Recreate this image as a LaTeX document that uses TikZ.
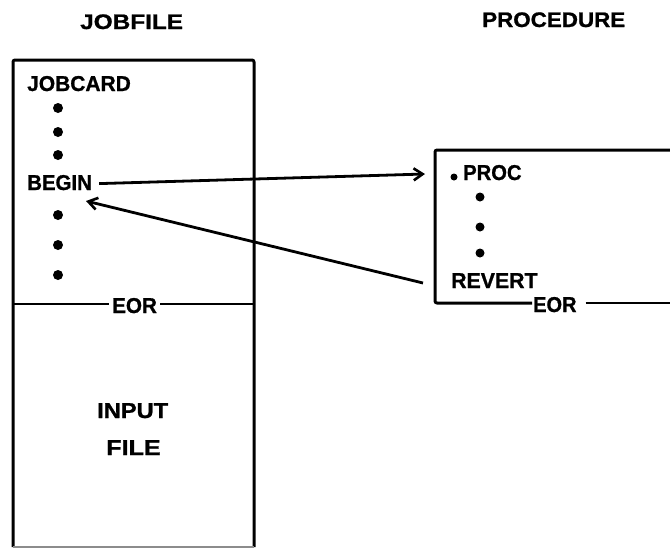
\documentclass[tikz,border=0pt]{standalone}
\usepackage{fontspec}
\setmainfont{Liberation Sans}[BoldFeatures={FakeBold=1}]
\usetikzlibrary{arrows.meta}
\begin{document}
\begin{tikzpicture}[x=1pt,y=-1pt,
  txt/.style={inner sep=0pt,anchor=base west,font=\fontsize{21.5}{26}\selectfont\bfseries},
  hdr/.style={inner sep=0pt,anchor=base west,font=\fontsize{21}{25}\selectfont\bfseries},
  frame/.style={line width=3pt,line join=round,rounded corners=2pt},
  rule/.style={line width=2.4pt},
  arr/.style={line width=2.8pt,-{Straight Barb[length=9pt,width=12pt,line width=2.6pt]}},
  dotm/.style={circle,fill=black,inner sep=0pt,minimum size=10pt}]
\useasboundingbox (0,0) rectangle (670,549);
% headers
\node[hdr] (hjob) at (80,29) {\scalebox{1.16}[1]{JOBFILE}};
\node[hdr] (hproc) at (482,27) {\scalebox{1.066}[1]{PROCEDURE}};
% jobfile box
\draw[frame] (13,547) -- (13,60) -- (254,60) -- (254,547);
\draw[line width=1.8pt,black!45] (13,547) -- (254,547);
% jobfile contents
\node[txt] (jobcard) at (27,91) {\scalebox{0.975}[1]{JOBCARD}};
\foreach \yy [count=\i] in {108,132,155,215,245,275}
  \node[dotm] (jd\i) at (58,\yy) {};
\node[txt] (begin) at (27,190) {\scalebox{0.95}[1]{BEGIN}};
\node[txt] (eor1) at (112,313) {\scalebox{0.96}[1]{EOR}};
\draw[rule] (13,304) -- ([xshift=-3pt]eor1.west |- 0,304);
\draw[rule] ([xshift=3pt]eor1.east |- 0,304) -- (254,304);
\node[txt] (input) at (97,418) {\scalebox{1.1}[1]{INPUT}};
\node[txt] (file) at (106,455) {\scalebox{1.17}[1]{FILE}};
% procedure box
\node[txt] (eor2) at (533,312) {\scalebox{0.93}[1]{EOR}};
\draw[frame] (670,150) -- (435,150) -- (435,303) -- ([xshift=-1pt]eor2.west |- 0,303);
\draw[rule] ([xshift=9pt]eor2.east |- 0,303) -- (670,303);
\node[dotm,minimum size=7pt] (pd0) at (454,177) {};
\node[txt] (proc) at (463,180) {\scalebox{0.94}[1]{PROC}};
\foreach \yy [count=\i] in {197,227,253}
  \node[dotm,minimum size=9pt] (pd\i) at (480,\yy) {};
\node[txt] (revert) at (451,288) {\scalebox{0.99}[1]{REVERT}};
% connectors
\coordinate (callin) at (425,174);
\coordinate (retout) at (423,283);
\coordinate (retin) at (86,201);
\draw[arr] ([xshift=7pt,yshift=-1pt]begin.east) -- (callin);
\draw[arr] (retout) -- (retin);
\end{tikzpicture}
\end{document}
